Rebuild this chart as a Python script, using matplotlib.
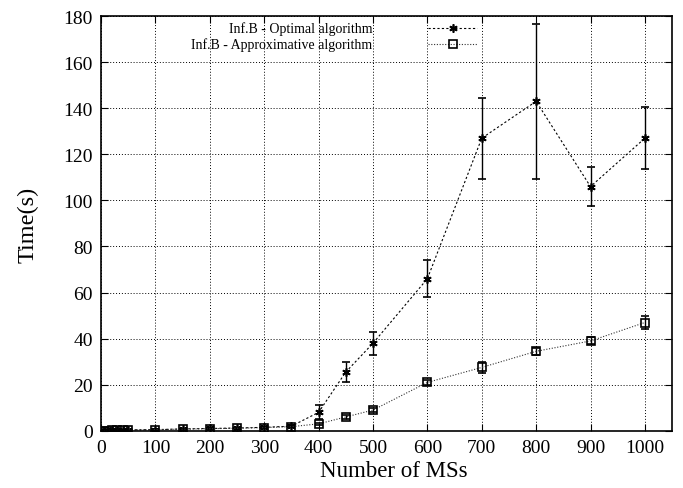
import numpy as np
import matplotlib
matplotlib.use("Agg")
from matplotlib import pyplot as plt
from matplotlib.lines import Line2D

plt.rcParams['font.family'] = ['Liberation Serif', 'DejaVu Serif']

#Data
ms = [5, 10, 20, 30, 40, 50, 100, 150, 200, 250, 300, 350, 400, 450, 500, 600, 700, 800, 900, 1000]
optimal = [0.1, 0.2, 0.2, 0.3, 0.3, 0.4, 0.5, 0.8, 1.0, 1.2, 1.5, 2.0, 8, 25.5, 38, 66, 127, 143, 106, 127]
optimal_err = [0, 0, 0, 0, 0, 0, 0.1, 0.1, 0.1, 0.2, 0.2, 0.3, 3, 4.5, 5, 8, 17.5, 33.5, 8.5, 13.5]
approx = [0.1, 0.1, 0.2, 0.2, 0.3, 0.3, 0.5, 0.7, 0.9, 1.1, 1.4, 1.8, 3, 6, 9, 21, 27.5, 34.5, 39, 47]
approx_err = [0, 0, 0, 0, 0, 0, 0.1, 0.1, 0.1, 0.1, 0.2, 0.2, 0.5, 0.8, 1, 1.2, 2.5, 1.5, 1.5, 3]
labels = ['Inf.B - Optimal algorithm', 'Inf.B - Approximative algorithm']

xticks = list(range(0, 1001, 100))
yticks = list(range(0, 181, 20))

fig = plt.figure(figsize=(6.83, 4.89), dpi=100)
ax = fig.add_axes([0.148, 0.117, 0.836, 0.848])

style_opt = dict(color='black', ls=(0, (2, 2)), lw=0.8, marker=(6, 2, 0), ms=6, mew=1.2)
style_apx = dict(color='#333333', ls=(0, (1, 1.5)), lw=0.8, marker='s', ms=6,
                 mfc='none', mec='black', mew=1.2)

ax.errorbar(ms, optimal, yerr=optimal_err, capsize=3, elinewidth=1.0, capthick=1.0,
            ecolor='black', **style_opt)
ax.errorbar(ms, approx, yerr=approx_err, capsize=3, elinewidth=1.0, capthick=1.0,
            ecolor='black', **style_apx)

ax.set_xlim(0, 1050)
ax.set_ylim(0, 180)
ax.set_xticks(xticks)
ax.set_yticks(yticks)
ax.tick_params(direction='in', top=True, right=True, labelsize=14, length=5, pad=6)
ax.grid(True, color='black', ls=(0, (1, 2)), lw=0.7)
for s in ax.spines.values():
    s.set_linewidth(1.2)

ax.set_xlabel('Number of MSs', fontsize=16.5, labelpad=3)
ax.xaxis.label.set_x(0.513)
ax.set_ylabel('Time(s)', fontsize=17.5, labelpad=18)

# legend drawn by hand: text right aligned, sample to the right
for i, (lab, st) in enumerate([(labels[0], style_opt), (labels[1], style_apx)]):
    y = 0.971 - i * 0.038
    ax.text(0.475, y, lab, transform=ax.transAxes, ha='right', va='center', fontsize=10)
    ax.add_line(Line2D([0.573, 0.616, 0.659], [y, y, y], transform=ax.transAxes,
                       markevery=[1], **st))

fig.savefig('out.png', dpi=100)
